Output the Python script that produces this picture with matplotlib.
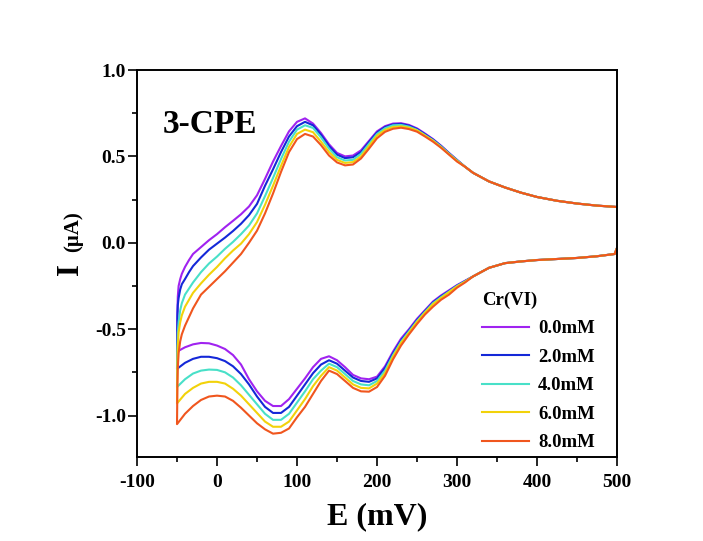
import matplotlib
matplotlib.use('Agg')
import matplotlib.pyplot as plt
from matplotlib.ticker import MultipleLocator, FormatStrFormatter

plt.rcParams['font.family'] = 'Liberation Serif'
plt.rcParams['font.weight'] = 'bold'
plt.rcParams['axes.unicode_minus'] = False

# ---- data (E in mV, I in uA) ----
labels = ['0.0mM', '2.0mM', '4.0mM', '6.0mM', '8.0mM']
colors = ['#A023F0', '#1428D8', '#48E0C8', '#F2D20A', '#F0561E']

# forward (anodic) scan, -50 -> 300 mV
E_fwd = [-50, -49.5, -49, -48, -46, -44, -40, -35, -30, -20, -10,
         0, 10, 20, 30, 40, 50, 60, 70, 80, 90, 100, 110, 120, 130, 140, 150,
         160, 170, 180, 190, 200, 210, 220, 230, 240, 250, 260, 270, 280, 290, 300]
I_fwd_0 = [-0.63, -0.40, -0.31, -0.25, -0.21, -0.18, -0.14, -0.10, -0.065, -0.025, 0.015,
           0.05, 0.09, 0.127, 0.165, 0.21, 0.275, 0.37, 0.47, 0.56, 0.645, 0.70, 0.72, 0.69, 0.635, 0.57, 0.52,
           0.50, 0.505, 0.535, 0.59, 0.645, 0.675, 0.69, 0.692, 0.682, 0.662, 0.632, 0.60, 0.562, 0.52, 0.48]
I_fwd_2 = [-0.73, -0.42, -0.36, -0.32, -0.27, -0.24, -0.21, -0.17, -0.135, -0.085, -0.04,
           -0.005, 0.03, 0.068, 0.11, 0.16, 0.225, 0.33, 0.425, 0.525, 0.615, 0.675, 0.70, 0.68, 0.625, 0.56, 0.51,
           0.49, 0.495, 0.525, 0.583, 0.638, 0.67, 0.685, 0.688, 0.678, 0.658, 0.628, 0.597, 0.56, 0.518, 0.478]
I_fwd_4 = [-0.835, -0.62, -0.52, -0.46, -0.39, -0.35, -0.30, -0.265, -0.23, -0.17, -0.12,
           -0.08, -0.035, 0.005, 0.05, 0.10, 0.17, 0.27, 0.375, 0.485, 0.585, 0.655, 0.68, 0.665, 0.61, 0.545, 0.495,
           0.476, 0.48, 0.515, 0.573, 0.63, 0.663, 0.68, 0.682, 0.672, 0.653, 0.623, 0.593, 0.557, 0.516, 0.477]
I_fwd_6 = [-0.93, -0.70, -0.60, -0.52, -0.46, -0.42, -0.37, -0.33, -0.29, -0.235, -0.185,
           -0.14, -0.09, -0.045, -0.005, 0.05, 0.12, 0.22, 0.33, 0.445, 0.555, 0.63, 0.655, 0.64, 0.585, 0.525, 0.48,
           0.462, 0.467, 0.50, 0.56, 0.62, 0.653, 0.67, 0.674, 0.666, 0.65, 0.62, 0.59, 0.553, 0.513, 0.474]
I_fwd_8 = [-1.05, -0.82, -0.72, -0.64, -0.57, -0.53, -0.48, -0.43, -0.38, -0.30, -0.255,
           -0.21, -0.165, -0.115, -0.065, 0.0, 0.07, 0.17, 0.285, 0.41, 0.525, 0.60, 0.63, 0.615, 0.565, 0.505, 0.465,
           0.448, 0.453, 0.488, 0.545, 0.605, 0.642, 0.66, 0.666, 0.658, 0.643, 0.615, 0.585, 0.55, 0.51, 0.47]
# shared forward tail (all curves overlap here)
E_fwd_tail = [310, 320, 340, 360, 380, 400, 425, 450, 475, 500]
I_fwd_tail = [0.44, 0.405, 0.355, 0.32, 0.29, 0.265, 0.243, 0.227, 0.215, 0.207]

# reverse (cathodic) scan, shared head 500 -> 320 mV
E_rev_head = [500, 497, 475, 450, 425, 400, 380, 360, 340, 330, 320]
I_rev_head = [-0.03, -0.065, -0.078, -0.088, -0.094, -0.10, -0.108, -0.118, -0.145, -0.17, -0.195]
E_rev = [310, 300, 290, 280, 270, 260, 250, 240, 230, 220, 210, 200, 190, 180, 170, 160, 150,
         140, 130, 120, 110, 100, 90, 80, 70, 60, 50, 40, 30, 20, 10, 0, -10, -20, -30, -40, -50]
I_rev_0 = [-0.22, -0.245, -0.275, -0.305, -0.34, -0.39, -0.44, -0.50, -0.555, -0.63, -0.715, -0.775, -0.79,
           -0.785, -0.765, -0.72, -0.68, -0.657, -0.672, -0.72, -0.785, -0.845, -0.905, -0.945, -0.945,
           -0.915, -0.86, -0.79, -0.705, -0.65, -0.615, -0.595, -0.582, -0.58, -0.588, -0.605, -0.63]
I_rev_2 = [-0.222, -0.248, -0.28, -0.31, -0.345, -0.395, -0.447, -0.507, -0.565, -0.64, -0.725, -0.785, -0.805,
           -0.80, -0.78, -0.74, -0.70, -0.68, -0.705, -0.755, -0.82, -0.885, -0.95, -0.985, -0.985,
           -0.95, -0.89, -0.82, -0.76, -0.715, -0.685, -0.668, -0.66, -0.66, -0.672, -0.695, -0.73]
I_rev_4 = [-0.224, -0.25, -0.283, -0.315, -0.35, -0.40, -0.453, -0.513, -0.573, -0.65, -0.74, -0.80, -0.825,
           -0.82, -0.80, -0.76, -0.72, -0.70, -0.74, -0.79, -0.86, -0.925, -0.99, -1.025, -1.025,
           -0.99, -0.935, -0.88, -0.825, -0.78, -0.75, -0.736, -0.734, -0.74, -0.757, -0.79, -0.835]
I_rev_6 = [-0.226, -0.253, -0.286, -0.32, -0.355, -0.405, -0.458, -0.52, -0.58, -0.66, -0.755, -0.815, -0.843,
           -0.84, -0.82, -0.78, -0.74, -0.72, -0.77, -0.83, -0.905, -0.97, -1.035, -1.065, -1.065,
           -1.035, -0.985, -0.935, -0.885, -0.845, -0.815, -0.805, -0.805, -0.815, -0.84, -0.875, -0.93]
I_rev_8 = [-0.23, -0.26, -0.30, -0.33, -0.37, -0.415, -0.47, -0.53, -0.595, -0.675, -0.77, -0.835, -0.862,
           -0.86, -0.84, -0.80, -0.76, -0.74, -0.80, -0.875, -0.95, -1.01, -1.075, -1.10, -1.105,
           -1.08, -1.045, -1.0, -0.955, -0.915, -0.89, -0.885, -0.89, -0.91, -0.945, -0.99, -1.05]

fwd_all = [I_fwd_0, I_fwd_2, I_fwd_4, I_fwd_6, I_fwd_8]
rev_all = [I_rev_0, I_rev_2, I_rev_4, I_rev_6, I_rev_8]

# ---- figure ----
fig = plt.figure(figsize=(7.03, 5.41), dpi=100)
ax = fig.add_axes([0.1949, 0.1553, 0.6828, 0.7153])

for lab, col, I_f, I_r in zip(labels, colors, fwd_all, rev_all):
    E = E_rev_head + E_rev + E_fwd + E_fwd_tail
    I = I_rev_head + I_r + I_f + I_fwd_tail
    ax.plot(E, I, color=col, lw=1.5, label=lab)

ax.set_xlim(-100, 500)
ax.set_ylim(-1.24, 1.0)
ax.set_xticks(range(-100, 501, 100))
ax.set_yticks([-1.0, -0.5, 0.0, 0.5, 1.0])
ax.xaxis.set_minor_locator(MultipleLocator(50))
ax.yaxis.set_minor_locator(MultipleLocator(0.25))
ax.yaxis.set_major_formatter(FormatStrFormatter('%.1f'))
ax.tick_params(which='major', direction='out', length=6.5, width=1.2, labelsize=14)
ax.tick_params(which='minor', direction='out', length=3.6, width=1.2)
ax.tick_params(axis='x', which='major', pad=5.5)
ax.tick_params(axis='y', which='major', pad=1.5)
for sp in ax.spines.values():
    sp.set_linewidth(1.4)

ax.text(-67.5, 0.686, '3-CPE', fontsize=24, fontweight='bold', ha='left', va='center')

ax.set_xlabel('E (mV)', fontsize=23, fontweight='bold', labelpad=8)
fig.text(0.100, 0.503, 'I', fontsize=22, fontweight='bold', rotation=90, ha='center', va='center')
fig.text(0.104, 0.572, '(\u03bcA)', fontsize=15, fontweight='bold', rotation=90, ha='center', va='center')

ax.legend(title='Cr(VI)', loc='lower left', bbox_to_anchor=(0.699, -0.01), frameon=False,
          prop={'size': 13.5, 'weight': 'bold'},
          title_fontproperties={'size': 13.5, 'weight': 'bold'},
          handlelength=2.5, handletextpad=0.5, labelspacing=0.61, borderpad=0,
          alignment='left')

fig.savefig('out.png', dpi=100)
